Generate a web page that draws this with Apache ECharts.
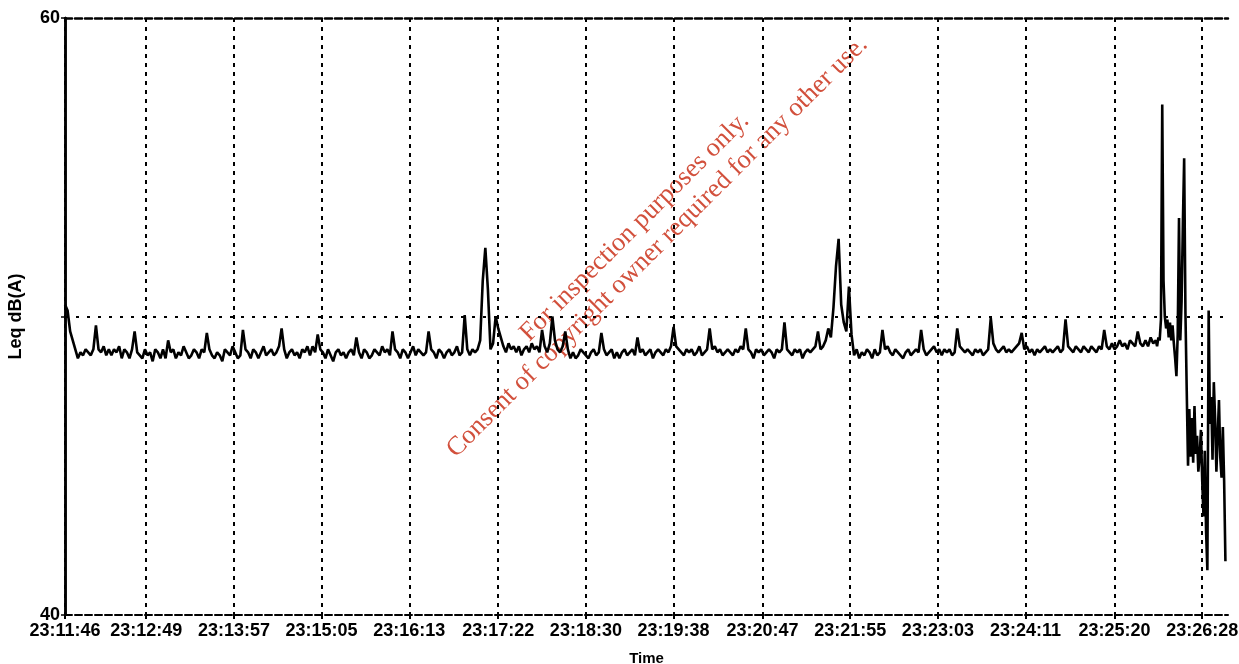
<!DOCTYPE html>
<html>
<head>
<meta charset="utf-8">
<title>Leq dB(A)</title>
<script src="https://cdn.jsdelivr.net/npm/echarts@6/dist/echarts.min.js"></script>
<style>
  html, body { margin: 0; padding: 0; background: #fff; }
  #chart { width: 1239px; height: 664px; }
</style>
</head>
<body>
<div id="chart"></div>
<script>
// tick labels, start time is 23:11:46
const tickLabels = ['23:11:46', '23:12:49', '23:13:57', '23:15:05', '23:16:13', '23:17:22', '23:18:30',
  '23:19:38', '23:20:47', '23:21:55', '23:23:03', '23:24:11', '23:25:20', '23:26:28']
const timeMax = 902

// Leq every 2 s from 23:11:46 (s = 0 .. 846)
const leqMain = [
  50.4, 50.2, 49.5, 49.2, 48.9, 48.6, 48.8, 48.7, 48.9, 48.8,
  48.7, 48.9, 49.7, 48.9, 48.8, 49.0, 48.7, 48.9, 48.7, 48.9,
  48.8, 49.0, 48.6, 48.9, 48.8, 48.6, 48.9, 49.5, 48.8, 48.7,
  48.6, 48.9, 48.7, 48.8, 48.5, 48.9, 48.8, 48.6, 48.9, 48.6,
  49.2, 48.8, 48.9, 48.6, 48.8, 48.7, 49.0, 48.8, 48.6, 48.7,
  48.9, 48.8, 48.6, 48.9, 48.8, 49.45, 48.9, 48.7, 48.6, 48.8,
  48.7, 48.5, 48.9, 48.8, 48.7, 49.0, 48.8, 48.6, 48.7, 49.55,
  48.9, 48.8, 48.6, 48.9, 48.8, 48.6, 48.8, 49.0, 48.7, 48.8,
  48.9, 48.7, 48.8, 49.0, 49.6, 48.9, 48.6, 48.8, 48.9, 48.7,
  48.8, 48.6, 48.9, 48.8, 49.0, 48.7, 49.0, 48.8, 49.4, 48.9,
  48.8, 48.6, 48.9, 48.7, 48.5, 48.8, 48.9, 48.7, 48.8, 48.6,
  48.8, 48.9, 48.7, 49.3, 48.8, 48.6, 48.9, 48.8, 48.6, 48.7,
  48.9, 48.8, 48.7, 49.0, 48.8, 48.9, 48.7, 49.5, 48.9, 48.8,
  48.6, 48.9, 48.8, 48.6, 48.8, 49.0, 48.7, 48.9, 48.8, 48.7,
  48.8, 49.5, 48.9, 48.8, 48.6, 48.9, 48.8, 48.6, 48.8, 48.9,
  48.7, 48.8, 49.0, 48.7, 48.8, 50.05, 48.9, 48.7, 48.9, 48.8,
  48.9, 49.2, 51.2, 52.3, 50.9, 48.9, 49.1, 50.0, 49.6, 49.3,
  49.0, 48.8, 49.1, 48.9, 49.0, 48.8, 49.0, 48.7, 48.9, 49.0,
  48.8, 49.1, 48.9, 49.0, 48.8, 49.55, 49.0, 48.8, 49.1, 50.0,
  49.2, 48.9, 48.8, 49.0, 49.5, 48.9, 48.6, 48.8, 48.6, 48.7,
  48.9, 48.8, 48.7, 48.6, 48.8, 48.9, 48.7, 48.8, 49.45, 48.9,
  48.7, 48.8, 48.9, 48.6, 48.8, 48.6, 48.8, 48.9, 48.7, 48.8,
  48.9, 48.7, 49.3, 48.8, 48.9, 48.7, 48.8, 48.9, 48.6, 48.8,
  48.9, 48.8, 48.7, 48.9, 48.8, 49.0, 49.65, 49.0, 48.9, 48.8,
  48.7, 48.9, 48.8, 48.9, 48.7, 48.8, 49.0, 48.7, 48.8, 48.9,
  49.6, 48.9, 49.0, 48.8, 48.9, 48.7, 48.8, 48.9, 48.8, 48.7,
  48.9, 48.8, 49.0, 48.9, 49.6, 48.9, 48.8, 48.6, 48.9, 48.8,
  48.9, 48.7, 48.8, 48.9, 48.8, 48.6, 48.9, 48.8, 48.9, 49.8,
  48.9, 48.8, 48.7, 48.9, 48.8, 48.9, 48.6, 48.8, 48.9, 48.8,
  48.9, 49.0, 49.5, 48.9, 49.0, 49.2, 49.6, 49.3, 50.3, 51.7,
  52.6, 50.4, 49.8, 49.5, 51.0, 49.4, 48.7, 48.9, 48.6, 48.8,
  48.7, 48.9, 48.8, 48.6, 48.9, 48.7, 48.8, 49.55, 48.9, 49.0,
  48.8, 48.7, 48.9, 48.8, 48.7, 48.6, 48.8, 48.9, 48.7, 48.8,
  48.9, 48.8, 49.55, 48.9, 48.7, 48.8, 48.9, 49.0, 48.8, 48.9,
  48.7, 48.9, 48.8, 48.9, 48.7, 48.8, 49.6, 49.0, 48.9, 48.8,
  48.9, 48.8, 48.7, 48.9, 48.8, 48.9, 48.7, 48.8, 48.9, 49.95,
  49.1, 48.9, 48.8, 48.9, 49.0, 48.8, 48.9, 48.8, 48.9, 49.0,
  49.1, 49.45, 48.9, 49.0, 48.8, 48.9, 48.7, 48.9, 48.8, 48.9,
  49.0, 48.8, 48.9, 48.8, 48.9, 49.0, 48.8, 48.9, 49.9, 49.0,
  48.9, 48.8, 49.0, 48.9, 48.8, 49.0, 48.9, 48.8, 49.0, 48.9,
  48.8, 49.0, 48.9, 49.55, 49.0, 48.9, 49.1, 48.9, 49.0, 49.2,
  49.0, 49.1, 48.9, 49.2, 49.1, 49.0, 49.5, 49.1, 49.0, 49.2,
  49.0, 49.3, 49.1, 49.2
]

// Leq every 1 s for the last part (s = 847 .. 900)
const leqEndStart = 847
const leqEnd = [
  49.0, 49.3, 49.2, 49.9, 57.1, 51.2, 50.0, 49.6, 49.9, 49.3,
  49.8, 49.2, 49.7, 49.1, 48.6, 48.0, 49.4, 53.3, 49.2, 50.5,
  53.1, 55.3, 50.1, 47.5, 45.0, 46.9, 45.3, 46.6, 45.1, 47.0,
  45.4, 46.0, 44.8, 45.3, 46.2, 44.5, 43.3, 45.5, 42.8, 41.5,
  50.2, 46.4, 47.3, 45.2, 47.8, 46.6, 44.8, 46.0, 47.2, 45.3,
  44.6, 46.3, 44.5, 41.8
]

function toSec(label) {
  const [h, m, s] = label.split(':').map(Number)
  const [h0, m0, s0] = tickLabels[0].split(':').map(Number)
  return (h - h0) * 3600 + (m - m0) * 60 + (s - s0)
}
const tickSecs = tickLabels.map(toSec)

const lineData = leqMain.map((v, i) => [i * 2, v])
  .concat(leqEnd.map((v, i) => [leqEndStart + i, v]))

const textBold = {
  color: '#000',
  fontFamily: 'Liberation Sans, Arial, sans-serif',
  fontWeight: 'bold'
}

const chart = echarts.init(document.getElementById('chart'))
chart.setOption({
  backgroundColor: '#fff',
  animation: false,
  grid: {
    left: 65,
    right: 11,
    top: 18,
    bottom: 49,
    outerBoundsMode: 'none'
  },
  xAxis: [
    {
      type: 'value',
      min: 0,
      max: timeMax,
      name: 'Time',
      nameLocation: 'middle',
      nameGap: 36,
      nameTextStyle: { ...textBold, fontSize: 15 },
      axisLine: {
        lineStyle: { color: '#000', width: 2, type: [7, 3] }
      },
      axisTick: {
        show: true,
        customValues: tickSecs,
        length: 4,
        lineStyle: { color: '#000', width: 2 }
      },
      axisLabel: {
        customValues: tickSecs,
        margin: 7,
        ...textBold,
        fontSize: 18,
        formatter: (v) => tickLabels[tickSecs.indexOf(v)] || ''
      },
      splitLine: {
        show: true,
        lineStyle: { color: '#000', width: 2, type: [4, 5] }
      }
    },
    {
      type: 'value',
      position: 'top',
      min: 0,
      max: timeMax,
      axisLine: {
        show: true,
        lineStyle: { color: '#000', width: 2.5, type: [7, 3] }
      },
      axisTick: { show: false },
      axisLabel: { show: false },
      splitLine: { show: false }
    }
  ],
  yAxis: [
    {
      type: 'value',
      min: 40,
      max: 60,
      interval: 10,
      name: 'Leq dB(A)',
      nameLocation: 'middle',
      nameGap: 40,
      nameTextStyle: { ...textBold, fontSize: 18 },
      axisLine: {
        show: true,
        lineStyle: { color: '#000', width: 2.5 }
      },
      axisTick: {
        show: true,
        length: 4,
        lineStyle: { color: '#000', width: 1.5 }
      },
      axisLabel: {
        margin: 5,
        ...textBold,
        fontSize: 18,
        formatter: (v) => (v === 50 ? '' : v)
      },
      splitLine: { show: false }
    },
    {
      type: 'value',
      position: 'right',
      min: 40,
      max: 60,
      interval: 10,
      axisLine: {
        show: true,
        lineStyle: { color: '#000', width: 2.5 }
      },
      axisTick: { show: false },
      axisLabel: { show: false },
      splitLine: { show: false }
    }
  ],
  series: [
    {
      type: 'line',
      xAxisIndex: 0,
      yAxisIndex: 0,
      data: lineData,
      symbol: 'none',
      lineStyle: { color: '#000', width: 2.6 },
      markLine: {
        silent: true,
        symbol: 'none',
        label: { show: false },
        lineStyle: { color: '#000', width: 2, type: [3, 8] },
        data: [{ yAxis: 50 }]
      }
    }
  ],
  graphic: [
    {
      type: 'group',
      x: 646,
      y: 237,
      rotation: Math.PI / 4,
      silent: true,
      children: [
        {
          type: 'text',
          x: -1,
          y: -15,
          style: {
            text: 'For inspection purposes only.',
            fill: '#d2503c',
            font: '26.5px "Liberation Serif", "Times New Roman", serif',
            textAlign: 'center',
            textVerticalAlign: 'middle'
          }
        },
        {
          type: 'text',
          x: 1,
          y: 15,
          style: {
            text: 'Consent of copyright owner required for any other use.',
            fill: '#d2503c',
            font: '26.5px "Liberation Serif", "Times New Roman", serif',
            textAlign: 'center',
            textVerticalAlign: 'middle'
          }
        }
      ]
    }
  ]
})
</script>
</body>
</html>
